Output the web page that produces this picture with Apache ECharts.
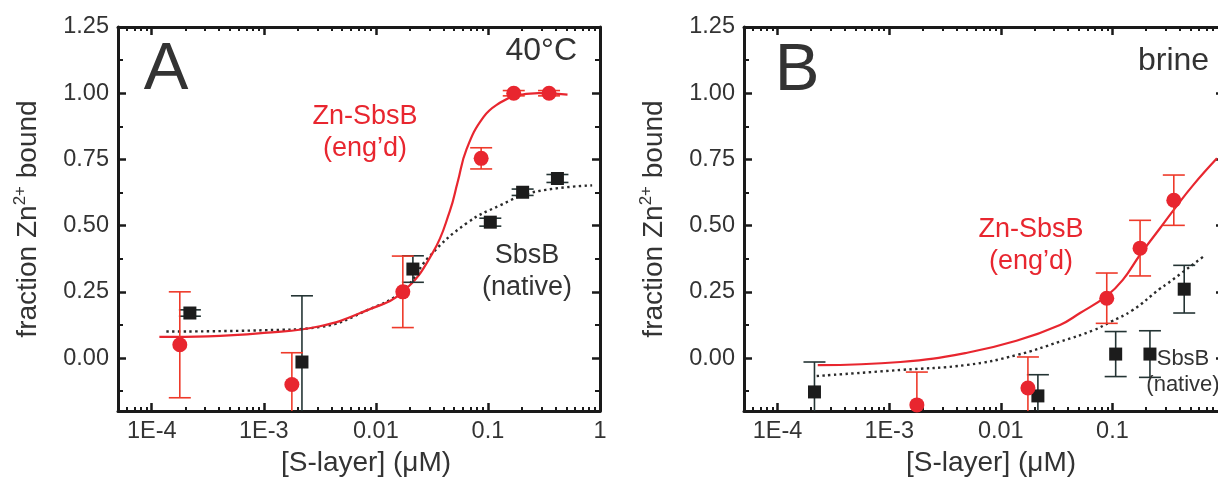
<!DOCTYPE html>
<html>
<head>
<meta charset="utf-8">
<script src="https://cdn.jsdelivr.net/npm/echarts@6/dist/echarts.min.js"></script>
<style>
html,body{margin:0;padding:0;background:#fff;}
#chart{width:1218px;height:477px;}
</style>
</head>
<body>
<div id="chart"></div>
<script>
// ---------- Data ----------
// Panel A (40°C)
const aRedX   = [1.78e-4, 1.78e-3, 0.0174, 0.087, 0.170, 0.351];
const aRedY   = [0.05, -0.10, 0.25, 0.754, 1.00, 1.00];
const aRedErr = [0.20, 0.12, 0.135, 0.04, 0.01, 0.01];
const aBlkX   = [2.19e-4, 2.19e-3, 0.0214, 0.105, 0.204, 0.417];
const aBlkY   = [0.17, -0.015, 0.336, 0.513, 0.626, 0.678];
const aBlkErr = [0.012, 0.25, 0.05, 0.015, 0.012, 0.015];
const aRedFitX = [1.17e-4, 3.16e-4, 1.0e-3, 3.16e-3, 8.3e-3, 0.0174, 0.0324, 0.0457, 0.0537, 0.0646, 0.0912, 0.129, 0.174, 0.282, 0.513];
const aRedFitY = [0.08, 0.082, 0.095, 0.12, 0.18, 0.25, 0.40, 0.555, 0.665, 0.79, 0.91, 0.965, 0.99, 1.0, 0.995];
const aBlkFitX = [1.35e-4, 1.0e-3, 3.16e-3, 8.3e-3, 0.0174, 0.0302, 0.0646, 0.129, 0.251, 0.851];
const aBlkFitY = [0.10, 0.105, 0.117, 0.18, 0.255, 0.385, 0.509, 0.577, 0.626, 0.652];

// Panel B (brine)
const bRedX   = [1.77e-3, 0.0175, 0.089, 0.177, 0.355];
const bRedY   = [-0.177, -0.113, 0.226, 0.415, 0.596];
const bRedErr = [0.124, 0.117, 0.095, 0.105, 0.095];
const bBlkX   = [2.14e-4, 0.0215, 0.107, 0.217, 0.44];
const bBlkY   = [-0.128, -0.143, 0.015, 0.015, 0.26];
const bBlkErr = [0.113, 0.08, 0.085, 0.088, 0.09];
const bRedFitX = [2.29e-4, 1.26e-3, 5.0e-3, 0.0138, 0.0339, 0.0513, 0.0891, 0.124, 0.177, 0.267, 0.363, 0.527, 0.865];
const bRedFitY = [-0.027, -0.015, 0.02, 0.065, 0.125, 0.17, 0.235, 0.295, 0.39, 0.49, 0.565, 0.652, 0.754];
const bBlkFitX = [2.24e-4, 1.26e-3, 5.0e-3, 0.0138, 0.0339, 0.0676, 0.0955, 0.151, 0.267, 0.309, 0.676];
const bBlkFitY = [-0.068, -0.045, -0.026, 0.011, 0.062, 0.105, 0.136, 0.18, 0.262, 0.28, 0.388];

// Axis ticks
const xMajor = [1e-4, 1e-3, 1e-2, 1e-1, 1];
const xMinor = [];
[1e-5, 1e-4, 1e-3, 1e-2, 1e-1].forEach(d => { for (let k = 2; k <= 9; k++) xMinor.push(+(d * k).toPrecision(3)); });
const yMajor = [0, 0.25, 0.5, 0.75, 1.0, 1.25];
const yMinor = [-0.125, 0.125, 0.375, 0.625, 0.875, 1.125];
const xLabelMap = {'0.0001': '1E-4', '0.001': '1E-3', '0.01': '0.01', '0.1': '0.1', '1': '1'};

// ---------- Style ----------
const FONT = '"Liberation Sans", Arial, Helvetica, sans-serif';
const TXT = '#333333';
const AX = '#1a1a1a';
const RED = '#e8262f';
const REDBAR = '#ee3a2a';
const BLK = '#1c1c1c';
const BLKBAR = '#243434';

const grids = [
  {left: 118, top: 27, width: 482, height: 384, outerBoundsMode: 'none', containLabel: false},
  {left: 744, top: 27, width: 480, height: 384, outerBoundsMode: 'none', containLabel: false}
];

const xAxes = [], yAxes = [];
grids.forEach((g, gi) => {
  const base = {type: 'log', logBase: 10, min: 5e-5, max: 1, gridIndex: gi, splitLine: {show: false}};
  xAxes.push(Object.assign({}, base, {
    position: 'bottom',
    axisLine: {show: true, onZero: false, lineStyle: {color: AX, width: 3}},
    axisTick: {show: true, inside: true, length: 8, lineStyle: {color: AX, width: 2.5}, customValues: xMajor},
    axisLabel: {show: true, customValues: xMajor, margin: 9, fontSize: 23.5, color: TXT, fontFamily: FONT,
      formatter: v => xLabelMap[String(+v.toPrecision(3))] || ''},
    name: '[S-layer] (\u03bcM)', nameLocation: 'middle', nameGap: 35,
    nameTextStyle: {fontSize: 28, color: TXT, fontFamily: FONT, padding: [0, 0, 0, 14]}
  }));
  xAxes.push(Object.assign({}, base, {
    position: 'bottom',
    axisLine: {show: false, onZero: false},
    axisTick: {show: true, inside: true, length: 4, lineStyle: {color: AX, width: 2}, customValues: xMinor},
    axisLabel: {show: false}
  }));
  xAxes.push(Object.assign({}, base, {
    position: 'top',
    axisLine: {show: true, onZero: false, lineStyle: {color: AX, width: 3}},
    axisTick: {show: true, inside: true, length: 8, lineStyle: {color: AX, width: 2.5}, customValues: xMajor},
    axisLabel: {show: false}
  }));
  xAxes.push(Object.assign({}, base, {
    position: 'top',
    axisLine: {show: false, onZero: false},
    axisTick: {show: true, inside: true, length: 4, lineStyle: {color: AX, width: 2}, customValues: xMinor},
    axisLabel: {show: false}
  }));

  const ybase = {type: 'value', min: -0.2, max: 1.25, gridIndex: gi, splitLine: {show: false}};
  yAxes.push(Object.assign({}, ybase, {
    position: 'left',
    axisLine: {show: true, onZero: false, lineStyle: {color: AX, width: 3}},
    axisTick: {show: true, inside: true, length: 8, lineStyle: {color: AX, width: 2.5}, customValues: yMajor},
    axisLabel: {show: true, customValues: yMajor, margin: 9, fontSize: 23.5, color: TXT, fontFamily: FONT,
      formatter: v => v.toFixed(2)},
    name: 'fraction Zn{sup|2+} bound', nameLocation: 'middle', nameGap: 73, nameRotate: 90,
    nameTextStyle: {fontSize: 28, color: TXT, fontFamily: FONT,
      rich: {sup: {fontSize: 17, color: TXT, fontFamily: FONT, verticalAlign: 'top', padding: [0, 0, 16, 0]}}}
  }));
  yAxes.push(Object.assign({}, ybase, {
    position: 'left',
    axisLine: {show: false, onZero: false},
    axisTick: {show: true, inside: true, length: 5, lineStyle: {color: AX, width: 2}, customValues: yMinor},
    axisLabel: {show: false}
  }));
  yAxes.push(Object.assign({}, ybase, {
    position: 'right',
    axisLine: {show: true, onZero: false, lineStyle: {color: AX, width: 3}},
    axisTick: {show: true, inside: true, length: 8, lineStyle: {color: AX, width: 2.5}, customValues: yMajor},
    axisLabel: {show: false}
  }));
  yAxes.push(Object.assign({}, ybase, {
    position: 'right',
    axisLine: {show: false, onZero: false},
    axisTick: {show: true, inside: true, length: 5, lineStyle: {color: AX, width: 2}, customValues: yMinor},
    axisLabel: {show: false}
  }));
});

function zip2(xs, ys) { return xs.map((x, i) => [x, ys[i]]); }
function zip3(xs, ys, es) { return xs.map((x, i) => [x, ys[i], es[i]]); }

function errSeries(gi, xs, ys, es, color, z) {
  return {
    type: 'custom', xAxisIndex: gi * 4, yAxisIndex: gi * 4, clip: true, z: z,
    data: zip3(xs, ys, es),
    encode: {x: 0, y: 1},
    renderItem: function (params, api) {
      const x = api.value(0), y = api.value(1), e = api.value(2);
      const hi = api.coord([x, y + e]);
      const lo = api.coord([x, y - e]);
      const c = 11;
      const st = {stroke: color, lineWidth: 1.6, fill: null};
      return {
        type: 'group',
        children: [
          {type: 'line', shape: {x1: hi[0], y1: hi[1], x2: lo[0], y2: lo[1]}, style: st},
          {type: 'line', shape: {x1: hi[0] - c, y1: hi[1], x2: hi[0] + c, y2: hi[1]}, style: st},
          {type: 'line', shape: {x1: lo[0] - c, y1: lo[1], x2: lo[0] + c, y2: lo[1]}, style: st}
        ]
      };
    }
  };
}

function fitSeries(gi, xs, ys, color, dotted, z) {
  return {
    type: 'line', xAxisIndex: gi * 4, yAxisIndex: gi * 4, data: zip2(xs, ys),
    smooth: 0.45, symbol: 'none', clip: true, z: z, silent: true,
    lineStyle: dotted ? {color: color, width: 2.4, type: [2.4, 3.4]} : {color: color, width: 2.2}
  };
}

function ptSeries(gi, xs, ys, color, symbol, size, z) {
  return {
    type: 'scatter', xAxisIndex: gi * 4, yAxisIndex: gi * 4, data: zip2(xs, ys),
    symbol: symbol, symbolSize: size, clip: true, z: z,
    itemStyle: {color: color, opacity: 1}
  };
}

const series = [
  fitSeries(0, aBlkFitX, aBlkFitY, '#2a2a2a', true, 2),
  fitSeries(0, aRedFitX, aRedFitY, RED, false, 3),
  errSeries(0, aBlkX, aBlkY, aBlkErr, BLKBAR, 4),
  errSeries(0, aRedX, aRedY, aRedErr, REDBAR, 4),
  ptSeries(0, aBlkX, aBlkY, BLK, 'rect', 13, 5),
  ptSeries(0, aRedX, aRedY, RED, 'circle', 15, 6),

  fitSeries(1, bBlkFitX, bBlkFitY, '#2a2a2a', true, 2),
  fitSeries(1, bRedFitX, bRedFitY, RED, false, 3),
  errSeries(1, bBlkX, bBlkY, bBlkErr, BLKBAR, 4),
  errSeries(1, bRedX, bRedY, bRedErr, REDBAR, 4),
  ptSeries(1, bBlkX, bBlkY, BLK, 'rect', 13, 5),
  ptSeries(1, bRedX, bRedY, RED, 'circle', 15, 6)
];

function txt(x, y, s, size, color, align) {
  return {type: 'text', x: x, y: y, z: 10,
    style: {text: s, fontSize: size, fill: color, fontFamily: FONT, align: align || 'center', verticalAlign: 'middle', lineHeight: Math.round(size * 1.18)}};
}

const graphics = [
  txt(166, 71, 'A', 67, TXT),
  txt(577, 51, '40\u00b0C', 32, TXT, 'right'),
  txt(365, 133, 'Zn-SbsB\n(eng\u2019d)', 27, RED),
  txt(527, 272, 'SbsB\n(native)', 27, TXT),
  txt(797, 72, 'B', 67, TXT),
  txt(1138, 61, 'brine', 32, TXT, 'left'),
  txt(1031, 246, 'Zn-SbsB\n(eng\u2019d)', 27, RED),
  txt(1183, 372, 'SbsB\n(native)', 22, TXT)
];

const chart = echarts.init(document.getElementById('chart'), null, {renderer: 'canvas'});
chart.setOption({
  animation: false,
  backgroundColor: '#ffffff',
  textStyle: {fontFamily: FONT},
  grid: grids,
  xAxis: xAxes,
  yAxis: yAxes,
  series: series,
  graphic: graphics
});
</script>
</body>
</html>
